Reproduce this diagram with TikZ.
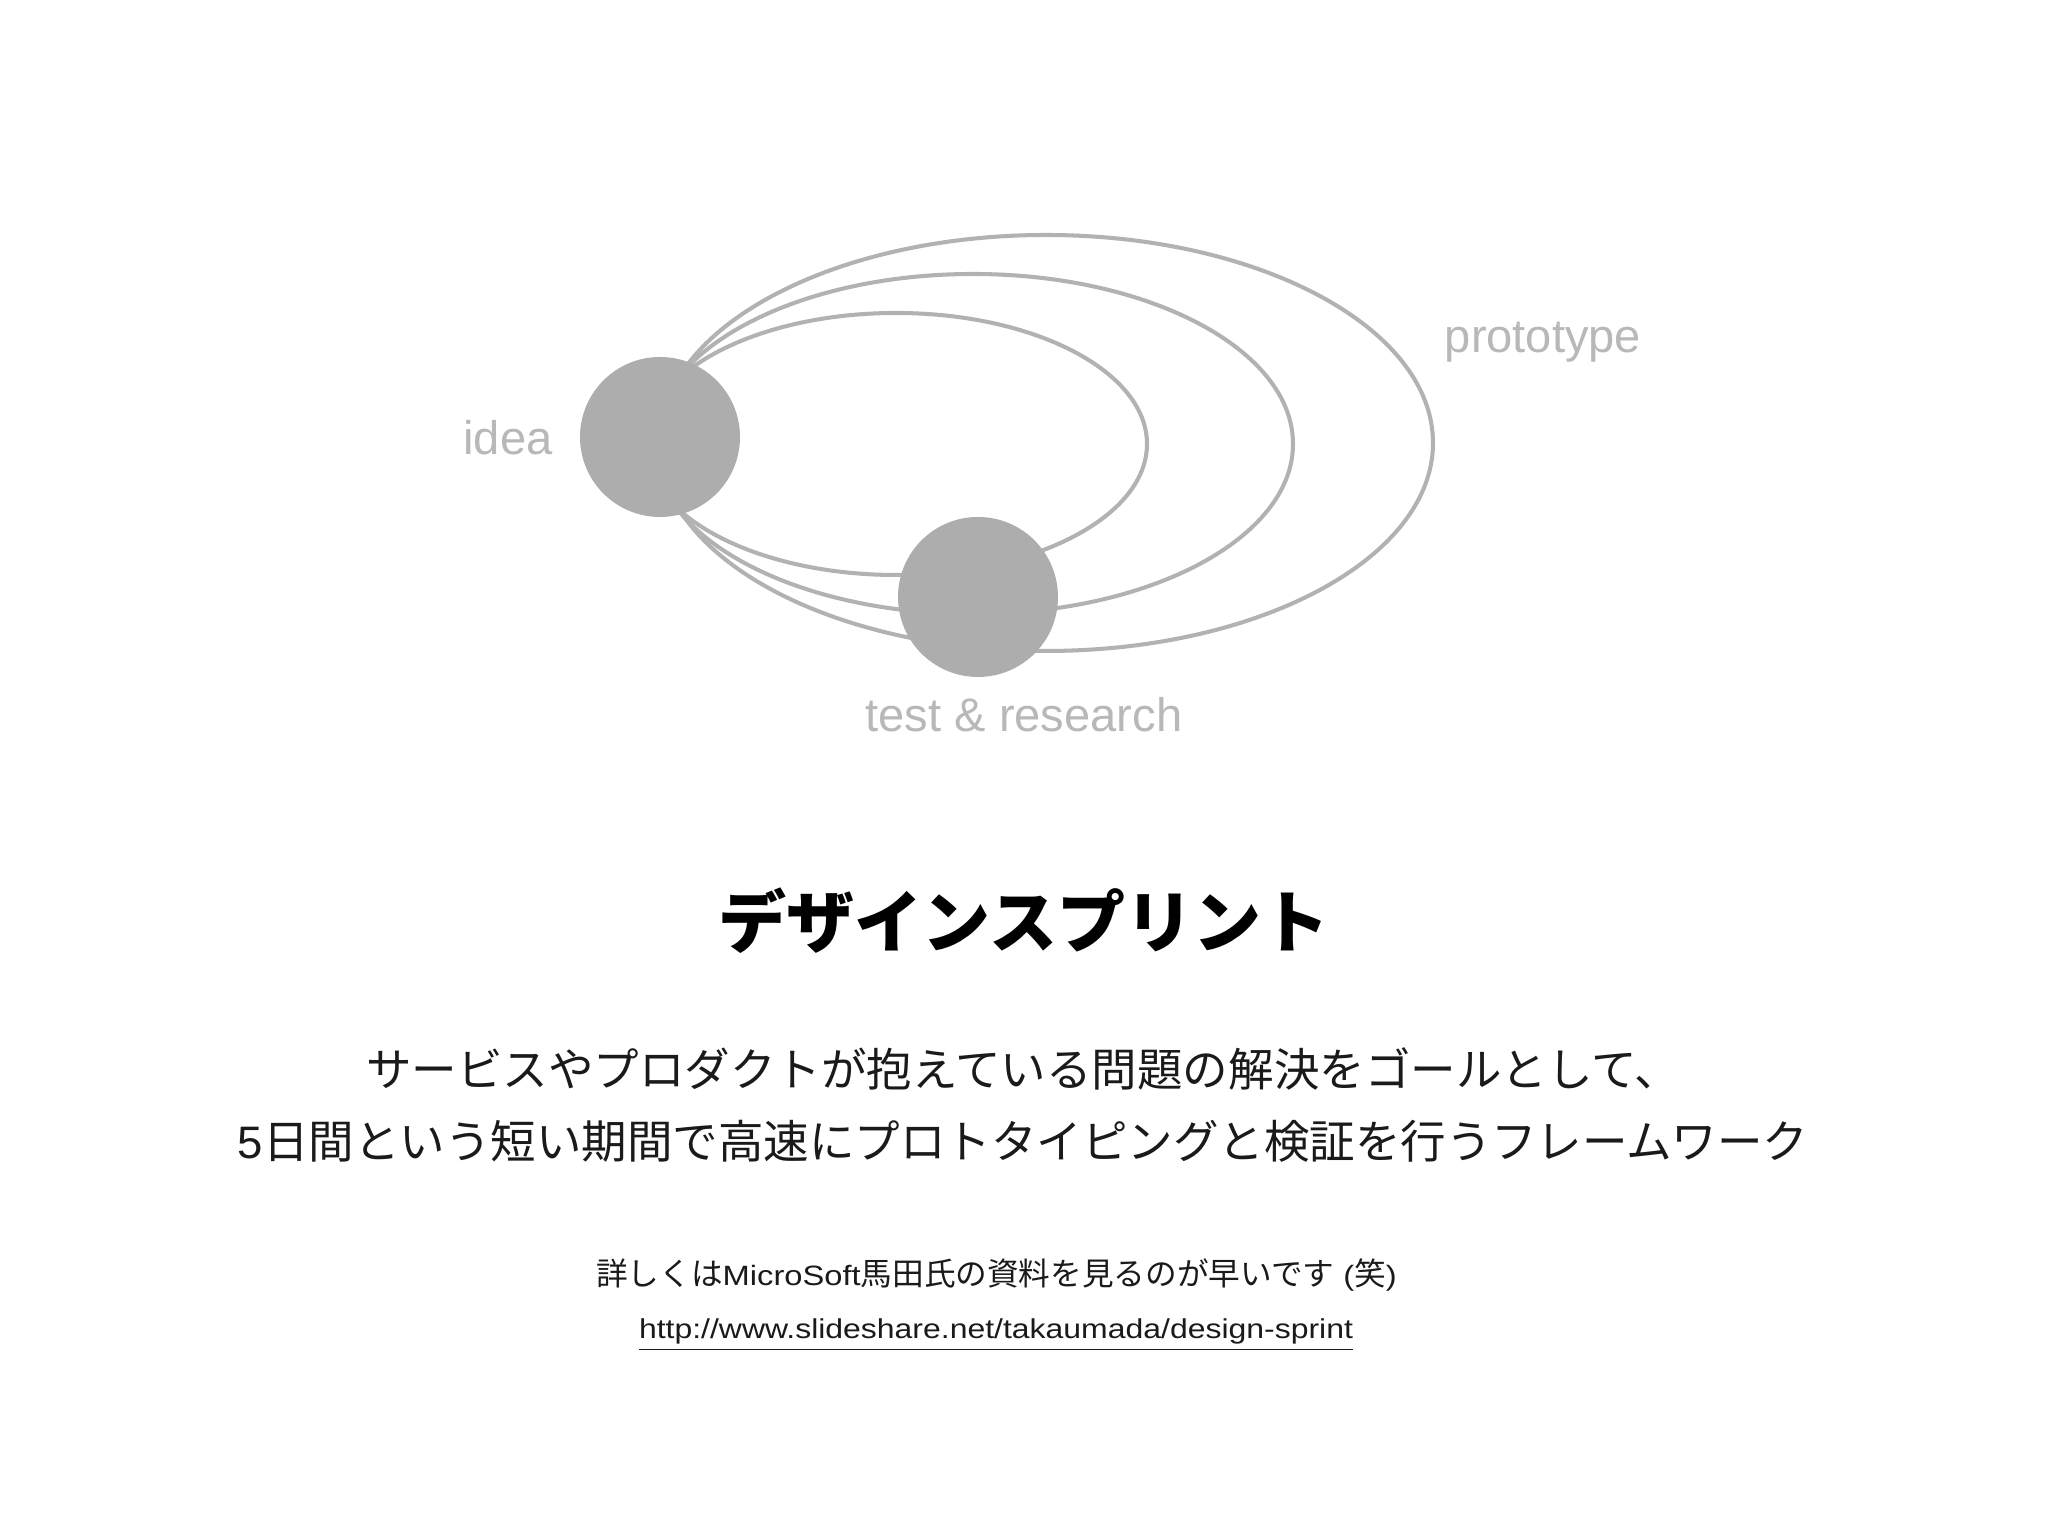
\documentclass[tikz,border=0pt]{standalone}
\usepackage{fontspec}
\setmainfont{Liberation Sans}
\newfontfamily\jp{Noto Sans CJK JP}
\newfontfamily\widesans[FakeStretch=1.17]{Liberation Sans}
\usepackage{tikz}
\definecolor{orbitgray}{RGB}{178,178,178}
\definecolor{blobgray}{RGB}{173,173,173}
\definecolor{labelgray}{RGB}{184,184,184}
\definecolor{ink}{RGB}{26,26,26}

\begin{document}
\begin{tikzpicture}
					\useasboundingbox[fill=white] (0,0) rectangle (20.48,15.36);
					\tikzstyle{orbit}=[draw=orbitgray,line width=1.15pt];
					\tikzstyle{blob}=[circle,fill=blobgray,minimum size=1.6cm,inner sep=0pt];
					\tikzstyle{lbl}=[anchor=base,inner sep=0pt,text=labelgray,font=\fontsize{13.4}{16}\selectfont];
					\tikzstyle{body}=[anchor=base,inner sep=0pt,text=ink,font=\jp\fontsize{12.95}{15}\selectfont];
					\tikzstyle{small}=[anchor=base,inner sep=0pt,text=ink,font=\jp\fontsize{9.0}{11}\selectfont];
					\draw[orbit] (8.96,10.92) ellipse [x radius=2.51,y radius=1.31];
					\draw[orbit] (9.73,10.92) ellipse [x radius=3.20,y radius=1.70];
					\draw[orbit] (10.46,10.93) ellipse [x radius=3.87,y radius=2.08];
					\path (6.60,10.99) node[blob] (idea) {};
					\path (9.78,9.39) node[blob] (test) {};
					\path (5.08,10.81) node[lbl] (idealbl) {idea};
					\path (15.43,11.83) node[lbl] (protolbl) {prototype};
					\path (10.24,8.04) node[lbl] (testlbl) {test \& research};
					\path (10.24,5.88) node[anchor=base,inner sep=0pt,font=\jp\bfseries\fontsize{19.35}{23}\selectfont] (title) {デザインスプリント};
					\path (10.23,4.49) node[body] (line1) {サービスやプロダクトが抱えている問題の解決をゴールとして、};
					\path (10.23,3.77) node[body] (line2) {{\rmfamily 5}日間という短い期間で高速にプロトタイピングと検証を行うフレームワーク};
					\path (9.965,2.50) node[small] (note) {詳しくは{\widesans\fontsize{7.95}{11}\selectfont MicroSoft}馬田氏の資料を見るのが早いです{\widesans\fontsize{7.95}{11}\selectfont\ (}笑{\widesans\fontsize{7.95}{11}\selectfont )}};
					\path (9.96,1.97) node[anchor=base,inner sep=0pt,text=ink,font=\widesans\fontsize{7.77}{11}\selectfont] (url) {\underline{http://www.slideshare.net/takaumada/design-sprint}};
					\end{tikzpicture}
\end{document}
